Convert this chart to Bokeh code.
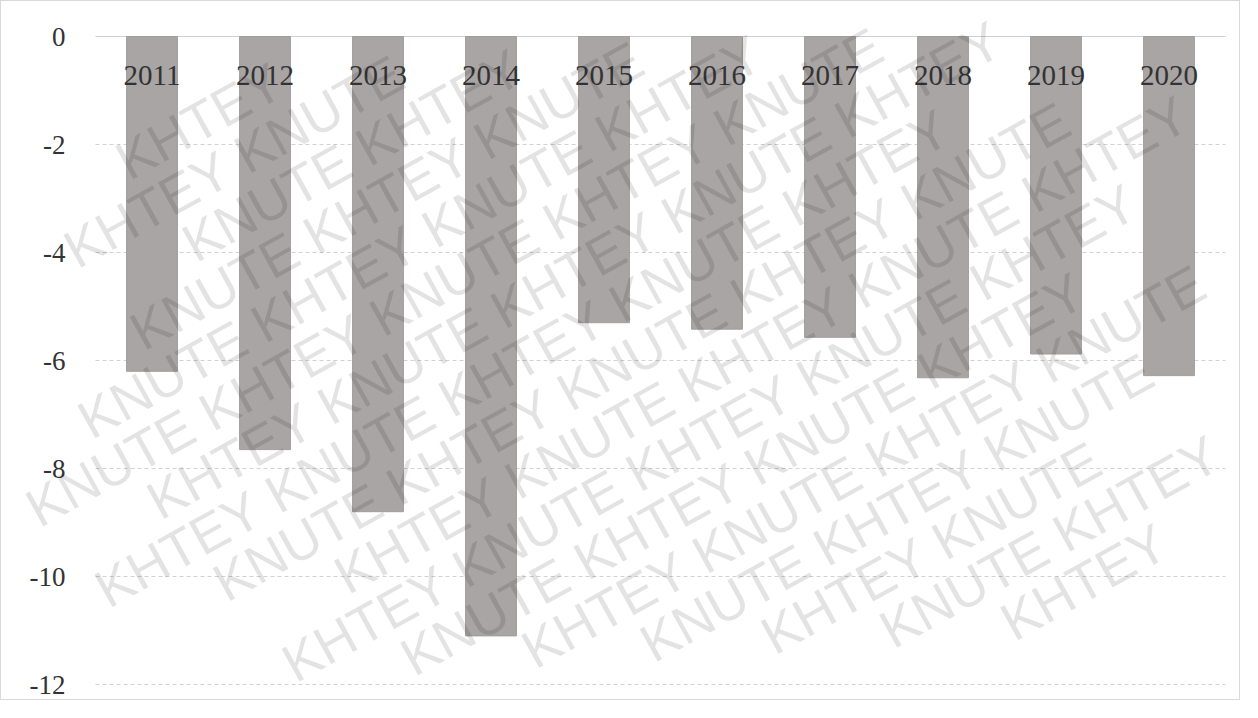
import math
from bokeh.plotting import figure
from bokeh.models import ColumnDataSource, Range1d
from bokeh.core.properties import value
from bokeh.embed import file_html
from bokeh.resources import INLINE

years = ["2011", "2012", "2013", "2014", "2015", "2016", "2017", "2018", "2019", "2020"]
values = [-6.2, -7.65, -8.8, -11.1, -5.3, -5.42, -5.57, -6.32, -5.88, -6.28]
y_ticks = [0, -2, -4, -6, -8, -10, -12]
y_labels = ["0", "-2", "-4", "-6", "-8", "-10", "-12"]
watermark_words = ["KNUTE", "KHTEY"]

W, H = 1240, 700
PL, PR, PT = 94, 16, 35          # plot area inset inside the canvas (px)
n = len(years)
PXX = (W - PL - PR) / n          # px per category
PXY = 54.0                       # px per y unit

p = figure(x_range=Range1d(-PL / PXX, n + PR / PXX),
           y_range=Range1d(-(H - PT) / PXY, PT / PXY),
           width=W, height=H, output_backend="svg", toolbar_location=None,
           min_border_left=0, min_border_right=0, min_border_top=0, min_border_bottom=0)
p.styles = {"border": "1px solid #d9d9d9"}
p.outline_line_color = None
p.background_fill_color = "white"
p.border_fill_color = "white"
p.xaxis.visible = False
p.yaxis.visible = False
p.grid.grid_line_color = None

# gridlines
grid_src = ColumnDataSource(dict(y=y_ticks[1:]))
p.segment(x0=0, x1=n, y0="y", y1="y", source=grid_src,
          line_color="#d2d2d2", line_width=1, line_dash="4 3")
p.segment(x0=[0], x1=[n], y0=[0], y1=[0], line_color="#cfcfcf", line_width=1)

# bars
pos = [i + 0.5 for i in range(n)]
src = ColumnDataSource(dict(x=pos, year=years, val=values))
p.vbar(x="x", top=0, bottom="val", width=0.45, source=src,
       fill_color="#aaa5a5", line_color="#a29d9d", line_width=1)

# category labels
p.text(x="x", y=0, text="year", source=src, y_offset=39,
       text_align="center", text_baseline="middle",
       text_font=value("Liberation Serif"), text_font_size="29px", text_color="#333333")

# y tick labels
tick_src = ColumnDataSource(dict(y=y_ticks, t=y_labels))
p.text(x=0, y="y", text="t", source=tick_src, x_offset=-30,
       text_align="right", text_baseline="middle",
       text_font=value("Liberation Serif"), text_font_size="27px", text_color="#333333")

# watermark: individual words on a rotated grid, kept fully inside the canvas
a = math.radians(29)
dx, dy = math.cos(a), -math.sin(a)       # along-row direction, screen coords (y down)
nx, ny = math.sin(a), math.cos(a)        # row-to-row direction
fs = 54
word_w = 3.39 * fs
box_h = 1.05 * fs
pitch = 3.64 * fs
spacing = 52
hx = abs(word_w / 2 * dx) + abs(box_h / 2 * nx) + 3
hy = abs(word_w / 2 * dy) + abs(box_h / 2 * ny) + 3
cx, cy = W / 2 + 20, H / 2
wx, wy, ww = [], [], []
for k in range(-20, 21):
    off = (k * 0.55) % 2
    for j in range(-14, 15):
        t = (j + off) * pitch
        sx = cx + t * dx + k * spacing * nx
        sy = cy + t * dy + k * spacing * ny
        if sx - hx < 0 or sx + hx > W or sy - hy < 0 or sy + hy > H:
            continue
        wx.append((sx - PL) / PXX)
        wy.append((PT - sy) / PXY)
        ww.append(watermark_words[(j + k) % 2])
wm_src = ColumnDataSource(dict(x=wx, y=wy, w=ww))
p.text(x="x", y="y", text="w", source=wm_src, angle=a,
       text_align="center", text_baseline="middle",
       text_font=value("Liberation Sans"), text_font_size=f"{fs}px",
       text_color="black", text_alpha=0.11)

open("out.html", "w").write(file_html(p, INLINE))
